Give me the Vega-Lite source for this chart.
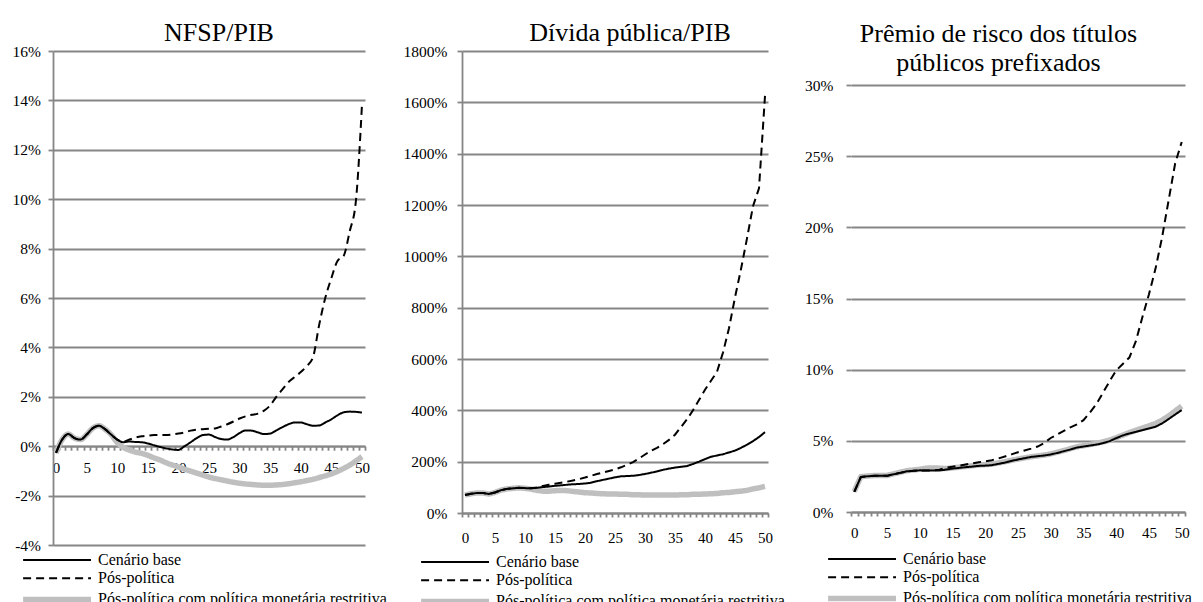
{
  "$schema": "https://vega.github.io/schema/vega-lite/v6.json",
  "background": "white",
  "padding": {"left": 12, "top": 20, "right": 0, "bottom": 0},
  "spacing": 16,
  "resolve": {"scale": {"color": "independent", "strokeDash": "independent", "strokeWidth": "independent"}, "legend": {"color": "independent", "strokeDash": "independent", "strokeWidth": "independent"}},
  "config": {
    "font": "Liberation Serif",
    "view": {"stroke": null},
    "axis": {"labelFont": "Liberation Serif", "labelColor": "#000000", "labelFontSize": 15, "domainColor": "#868686", "domainWidth": 1.8, "tickColor": "#868686", "tickWidth": 1.8, "gridColor": "#868686", "gridWidth": 1.8, "title": null},
    "axisX": {"grid": false, "tickSize": 4, "labelPadding": 10, "labelOverlap": false, "labelFlush": false, "labelBound": false},
    "axisY": {"tickSize": 5, "labelFontSize": 15.5, "labelOverlap": false},
    "title": {"font": "Liberation Serif", "fontSize": 26, "fontWeight": "normal", "color": "#000000", "anchor": "middle", "lineHeight": 29},
    "legend": {"orient": "none", "direction": "vertical", "title": null, "symbolType": "M-8.7,0H1", "symbolSize": 196, "labelFont": "Liberation Serif", "labelFontSize": 16, "labelColor": "#000000", "labelOffset": 4, "rowPadding": 2.2, "padding": 0, "labelLimit": 0}
  },
  "datasets": {
    "p1": [
      {"t":0,"a":-0.27,"b":-0.27,"c":-0.27},{"t":1,"a":0.27,"b":0.27,"c":0.27},{"t":2,"a":0.49,"b":0.49,"c":0.49},{"t":3,"a":0.33,"b":0.33,"c":0.33},{"t":4,"a":0.27,"b":0.27,"c":0.27},{"t":5,"a":0.47,"b":0.47,"c":0.47},{"t":6,"a":0.73,"b":0.73,"c":0.73},{"t":7,"a":0.83,"b":0.83,"c":0.83},{"t":8,"a":0.69,"b":0.69,"c":0.69},{"t":9,"a":0.47,"b":0.47,"c":0.47},
      {"t":10,"a":0.27,"b":0.27,"c":0.15},{"t":11,"a":0.16,"b":0.18,"c":-0.05},{"t":12,"a":0.19,"b":0.27,"c":-0.16},{"t":13,"a":0.17,"b":0.35,"c":-0.24},{"t":14,"a":0.16,"b":0.40,"c":-0.29},{"t":15,"a":0.11,"b":0.43,"c":-0.37},{"t":16,"a":0.04,"b":0.45,"c":-0.47},{"t":17,"a":-0.03,"b":0.45,"c":-0.56},{"t":18,"a":-0.09,"b":0.45,"c":-0.67},{"t":19,"a":-0.13,"b":0.48,"c":-0.76},
      {"t":20,"a":-0.15,"b":0.51,"c":-0.84},{"t":21,"a":0.0,"b":0.56,"c":-0.93},{"t":22,"a":0.16,"b":0.63,"c":-1.01},{"t":23,"a":0.33,"b":0.67,"c":-1.09},{"t":24,"a":0.45,"b":0.69,"c":-1.17},{"t":25,"a":0.47,"b":0.71,"c":-1.25},{"t":26,"a":0.37,"b":0.72,"c":-1.31},{"t":27,"a":0.29,"b":0.80,"c":-1.36},{"t":28,"a":0.27,"b":0.89,"c":-1.41},{"t":29,"a":0.37,"b":1.0,"c":-1.46},
      {"t":30,"a":0.53,"b":1.12,"c":-1.50},{"t":31,"a":0.64,"b":1.21,"c":-1.53},{"t":32,"a":0.63,"b":1.27,"c":-1.55},{"t":33,"a":0.56,"b":1.32,"c":-1.57},{"t":34,"a":0.49,"b":1.44,"c":-1.58},{"t":35,"a":0.51,"b":1.65,"c":-1.58},{"t":36,"a":0.64,"b":2.0,"c":-1.57},{"t":37,"a":0.77,"b":2.3,"c":-1.55},{"t":38,"a":0.89,"b":2.6,"c":-1.52},{"t":39,"a":0.96,"b":2.8,"c":-1.48},
      {"t":40,"a":0.96,"b":3.0,"c":-1.44},{"t":41,"a":0.89,"b":3.25,"c":-1.39},{"t":42,"a":0.83,"b":3.6,"c":-1.34},{"t":43,"a":0.84,"b":4.9,"c":-1.27},{"t":44,"a":0.96,"b":6.0,"c":-1.20},{"t":45,"a":1.09,"b":6.8,"c":-1.12},{"t":46,"a":1.25,"b":7.5,"c":-1.02},{"t":47,"a":1.37,"b":7.7,"c":-0.90},{"t":48,"a":1.40,"b":8.7,"c":-0.77},{"t":49,"a":1.39,"b":9.9,"c":-0.60},
      {"t":50,"a":1.36,"b":13.8,"c":-0.42}
    ],
    "p2": [
      {"t":0,"a":70,"b":70,"c":70},{"t":1,"a":75,"b":75,"c":75},{"t":2,"a":78,"b":78,"c":78},{"t":3,"a":78,"b":78,"c":78},{"t":4,"a":74,"b":74,"c":74},{"t":5,"a":80,"b":80,"c":80},{"t":6,"a":89,"b":89,"c":89},{"t":7,"a":94,"b":94,"c":94},{"t":8,"a":96,"b":96,"c":96},{"t":9,"a":98,"b":98,"c":98},
      {"t":10,"a":97,"b":97,"c":96},{"t":11,"a":96,"b":96,"c":93},{"t":12,"a":98,"b":100,"c":88},{"t":13,"a":101,"b":105,"c":85},{"t":14,"a":103,"b":110,"c":85},{"t":15,"a":106,"b":114,"c":87},{"t":16,"a":108,"b":118,"c":88},{"t":17,"a":110,"b":122,"c":87},{"t":18,"a":112,"b":127,"c":84},{"t":19,"a":113,"b":132,"c":82},
      {"t":20,"a":115,"b":138,"c":79},{"t":21,"a":118,"b":145,"c":78},{"t":22,"a":124,"b":152,"c":76},{"t":23,"a":129,"b":158,"c":75},{"t":24,"a":134,"b":164,"c":74},{"t":25,"a":139,"b":170,"c":74},{"t":26,"a":143,"b":178,"c":73},{"t":27,"a":144,"b":188,"c":73},{"t":28,"a":145,"b":198,"c":71},{"t":29,"a":148,"b":212,"c":71},
      {"t":30,"a":152,"b":228,"c":70},{"t":31,"a":157,"b":242,"c":70},{"t":32,"a":162,"b":254,"c":70},{"t":33,"a":168,"b":268,"c":70},{"t":34,"a":173,"b":285,"c":70},{"t":35,"a":177,"b":305,"c":70},{"t":36,"a":180,"b":335,"c":71},{"t":37,"a":183,"b":365,"c":71},{"t":38,"a":191,"b":400,"c":73},{"t":39,"a":200,"b":440,"c":73},
      {"t":40,"a":210,"b":480,"c":74},{"t":41,"a":219,"b":515,"c":75},{"t":42,"a":224,"b":550,"c":76},{"t":43,"a":229,"b":625,"c":79},{"t":44,"a":236,"b":720,"c":80},{"t":45,"a":243,"b":840,"c":83},{"t":46,"a":254,"b":950,"c":85},{"t":47,"a":266,"b":1070,"c":88},{"t":48,"a":280,"b":1195,"c":94},{"t":49,"a":296,"b":1265,"c":98},
      {"t":50,"a":315,"b":1625,"c":104}
    ],
    "p3": [
      {"t":0,"a":1.41,"b":1.41,"c":1.45},{"t":1,"a":2.46,"b":2.46,"c":2.48},{"t":2,"a":2.51,"b":2.51,"c":2.53},{"t":3,"a":2.54,"b":2.54,"c":2.56},{"t":4,"a":2.54,"b":2.54,"c":2.56},{"t":5,"a":2.54,"b":2.54,"c":2.57},{"t":6,"a":2.65,"b":2.65,"c":2.68},{"t":7,"a":2.75,"b":2.75,"c":2.79},{"t":8,"a":2.86,"b":2.86,"c":2.9},{"t":9,"a":2.89,"b":2.89,"c":2.95},
      {"t":10,"a":2.93,"b":2.93,"c":3.0},{"t":11,"a":2.91,"b":2.91,"c":3.08},{"t":12,"a":2.91,"b":2.91,"c":3.1},{"t":13,"a":2.91,"b":2.97,"c":3.08},{"t":14,"a":2.98,"b":3.1,"c":3.05},{"t":15,"a":3.05,"b":3.18,"c":3.1},{"t":16,"a":3.10,"b":3.25,"c":3.15},{"t":17,"a":3.15,"b":3.33,"c":3.2},{"t":18,"a":3.19,"b":3.42,"c":3.25},{"t":19,"a":3.24,"b":3.5,"c":3.3},
      {"t":20,"a":3.26,"b":3.56,"c":3.33},{"t":21,"a":3.29,"b":3.64,"c":3.37},{"t":22,"a":3.38,"b":3.76,"c":3.45},{"t":23,"a":3.47,"b":3.9,"c":3.53},{"t":24,"a":3.59,"b":4.05,"c":3.63},{"t":25,"a":3.69,"b":4.2,"c":3.72},{"t":26,"a":3.78,"b":4.32,"c":3.8},{"t":27,"a":3.87,"b":4.45,"c":3.88},{"t":28,"a":3.92,"b":4.6,"c":3.94},{"t":29,"a":3.97,"b":4.85,"c":4.0},
      {"t":30,"a":4.04,"b":5.2,"c":4.08},{"t":31,"a":4.15,"b":5.45,"c":4.2},{"t":32,"a":4.27,"b":5.7,"c":4.32},{"t":33,"a":4.39,"b":5.95,"c":4.45},{"t":34,"a":4.53,"b":6.15,"c":4.58},{"t":35,"a":4.60,"b":6.45,"c":4.66},{"t":36,"a":4.67,"b":7.0,"c":4.74},{"t":37,"a":4.74,"b":7.6,"c":4.83},{"t":38,"a":4.84,"b":8.4,"c":4.93},{"t":39,"a":4.98,"b":9.2,"c":5.05},
      {"t":40,"a":5.19,"b":9.95,"c":5.22},{"t":41,"a":5.38,"b":10.4,"c":5.4},{"t":42,"a":5.52,"b":10.85,"c":5.58},{"t":43,"a":5.63,"b":12.0,"c":5.74},{"t":44,"a":5.75,"b":13.7,"c":5.9},{"t":45,"a":5.87,"b":15.3,"c":6.05},{"t":46,"a":5.99,"b":17.1,"c":6.22},{"t":47,"a":6.22,"b":19.3,"c":6.45},{"t":48,"a":6.53,"b":21.9,"c":6.75},{"t":49,"a":6.85,"b":24.5,"c":7.1},
      {"t":50,"a":7.16,"b":26.0,"c":7.44}
    ]
  },
  "hconcat": [
    {
      "width": 312, "height": 494,
      "title": {"text": "NFSP/PIB", "dx": 10, "offset": -2, "font": "Liberation Serif"},
      "data": {"name": "p1"},
      "encoding": {
        "x": {"field": "t", "type": "quantitative", "scale": {"domain": [-0.5, 50.5], "nice": false, "zero": false},
          "axis": {"offset": -98.8, "labelOffset": 3.06, "labelFont": "Liberation Serif", "values": [-0.5,0.5,1.5,2.5,3.5,4.5,5.5,6.5,7.5,8.5,9.5,10.5,11.5,12.5,13.5,14.5,15.5,16.5,17.5,18.5,19.5,20.5,21.5,22.5,23.5,24.5,25.5,26.5,27.5,28.5,29.5,30.5,31.5,32.5,33.5,34.5,35.5,36.5,37.5,38.5,39.5,40.5,41.5,42.5,43.5,44.5,45.5,46.5,47.5,48.5,49.5,50.5],
            "labelExpr": "(datum.value+0.5)%5==0 ? format(datum.value+0.5,'d') : ''"}},
        "y": {"field": "v", "type": "quantitative", "scale": {"domain": [-4, 16], "nice": false, "zero": false},
          "axis": {"values": [-4,-2,0,2,4,6,8,10,12,14,16], "labelPadding": 7.5, "labelFont": "Liberation Serif", "labelExpr": "datum.value + '%'"}}
      },
      "layer": [
        {"transform": [{"fold": ["a","b","c"], "as": ["k","v"]}, {"filter": "datum.k=='c'"}],
         "mark": {"type": "line", "interpolate": "monotone"},
         "encoding": {
           "color": {"field": "k", "type": "nominal", "scale": {"domain": ["a","b","c"], "range": ["#000000","#000000","#bfbfbf"]}, "legend": {"legendX": 21, "legendY": 501, "labelFont": "Liberation Serif", "labelExpr": "datum.label=='a' ? 'Cenário base' : datum.label=='b' ? 'Pós-política' : 'Pós-política com política monetária restritiva'"}},
           "strokeDash": {"field": "k", "type": "nominal", "scale": {"domain": ["a","b","c"], "range": [[1,0],[8,5],[1,0]]}},
           "strokeWidth": {"field": "k", "type": "nominal", "scale": {"type": "ordinal", "domain": ["a","b","c"], "range": [2,2,5.5]}}}},
        {"transform": [{"fold": ["a","b","c"], "as": ["k","v"]}, {"filter": "datum.k=='b'"}],
         "mark": {"type": "line", "interpolate": "monotone"},
         "encoding": {
           "color": {"field": "k", "type": "nominal", "scale": {"domain": ["a","b","c"], "range": ["#000000","#000000","#bfbfbf"]}},
           "strokeDash": {"field": "k", "type": "nominal", "scale": {"domain": ["a","b","c"], "range": [[1,0],[8,5],[1,0]]}},
           "strokeWidth": {"field": "k", "type": "nominal", "scale": {"type": "ordinal", "domain": ["a","b","c"], "range": [2,2,5.5]}}}},
        {"transform": [{"fold": ["a","b","c"], "as": ["k","v"]}, {"filter": "datum.k=='a'"}],
         "mark": {"type": "line", "interpolate": "monotone"},
         "encoding": {
           "color": {"field": "k", "type": "nominal", "scale": {"domain": ["a","b","c"], "range": ["#000000","#000000","#bfbfbf"]}},
           "strokeDash": {"field": "k", "type": "nominal", "scale": {"domain": ["a","b","c"], "range": [[1,0],[8,5],[1,0]]}},
           "strokeWidth": {"field": "k", "type": "nominal", "scale": {"type": "ordinal", "domain": ["a","b","c"], "range": [2,2,5.5]}}}}
      ]
    },
    {
      "width": 306, "height": 462,
      "title": {"text": "Dívida pública/PIB", "dx": 15, "offset": -2, "font": "Liberation Serif"},
      "data": {"name": "p2"},
      "encoding": {
        "x": {"field": "t", "type": "quantitative", "scale": {"domain": [-0.5, 50.5], "nice": false, "zero": false},
          "axis": {"labelOffset": 3, "labelPadding": 13, "labelFont": "Liberation Serif", "values": [-0.5,0.5,1.5,2.5,3.5,4.5,5.5,6.5,7.5,8.5,9.5,10.5,11.5,12.5,13.5,14.5,15.5,16.5,17.5,18.5,19.5,20.5,21.5,22.5,23.5,24.5,25.5,26.5,27.5,28.5,29.5,30.5,31.5,32.5,33.5,34.5,35.5,36.5,37.5,38.5,39.5,40.5,41.5,42.5,43.5,44.5,45.5,46.5,47.5,48.5,49.5,50.5],
            "labelExpr": "(datum.value+0.5)%5==0 ? format(datum.value+0.5,'d') : ''"}},
        "y": {"field": "v", "type": "quantitative", "scale": {"domain": [0, 1800], "nice": false, "zero": false},
          "axis": {"values": [0,200,400,600,800,1000,1200,1400,1600,1800], "labelPadding": 10, "labelFont": "Liberation Serif", "labelExpr": "datum.value + '%'"}}
      },
      "layer": [
        {"transform": [{"fold": ["a","b","c"], "as": ["k","v"]}, {"filter": "datum.k=='c'"}],
         "mark": {"type": "line"},
         "encoding": {
           "color": {"field": "k", "type": "nominal", "scale": {"domain": ["a","b","c"], "range": ["#000000","#000000","#bfbfbf"]}, "legend": {"legendX": 10, "legendY": 503, "labelFont": "Liberation Serif", "labelExpr": "datum.label=='a' ? 'Cenário base' : datum.label=='b' ? 'Pós-política' : 'Pós-política com política monetária restritiva'"}},
           "strokeDash": {"field": "k", "type": "nominal", "scale": {"domain": ["a","b","c"], "range": [[1,0],[8,5],[1,0]]}},
           "strokeWidth": {"field": "k", "type": "nominal", "scale": {"type": "ordinal", "domain": ["a","b","c"], "range": [2,2,5.5]}}}},
        {"transform": [{"fold": ["a","b","c"], "as": ["k","v"]}, {"filter": "datum.k=='b'"}],
         "mark": {"type": "line"},
         "encoding": {
           "color": {"field": "k", "type": "nominal", "scale": {"domain": ["a","b","c"], "range": ["#000000","#000000","#bfbfbf"]}},
           "strokeDash": {"field": "k", "type": "nominal", "scale": {"domain": ["a","b","c"], "range": [[1,0],[8,5],[1,0]]}},
           "strokeWidth": {"field": "k", "type": "nominal", "scale": {"type": "ordinal", "domain": ["a","b","c"], "range": [2,2,5.5]}}}},
        {"transform": [{"fold": ["a","b","c"], "as": ["k","v"]}, {"filter": "datum.k=='a'"}],
         "mark": {"type": "line"},
         "encoding": {
           "color": {"field": "k", "type": "nominal", "scale": {"domain": ["a","b","c"], "range": ["#000000","#000000","#bfbfbf"]}},
           "strokeDash": {"field": "k", "type": "nominal", "scale": {"domain": ["a","b","c"], "range": [[1,0],[8,5],[1,0]]}},
           "strokeWidth": {"field": "k", "type": "nominal", "scale": {"type": "ordinal", "domain": ["a","b","c"], "range": [2,2,5.5]}}}}
      ]
    },
    {
      "width": 334, "height": 461,
      "title": {"text": ["Prêmio de risco dos títulos", "públicos prefixados"], "dx": -19.5, "offset": -25, "font": "Liberation Serif"},
      "data": {"name": "p3"},
      "encoding": {
        "x": {"field": "t", "type": "quantitative", "scale": {"domain": [-0.5, 50.5], "nice": false, "zero": false},
          "axis": {"labelOffset": 3.27, "labelPadding": 9, "labelFont": "Liberation Serif", "values": [-0.5,0.5,1.5,2.5,3.5,4.5,5.5,6.5,7.5,8.5,9.5,10.5,11.5,12.5,13.5,14.5,15.5,16.5,17.5,18.5,19.5,20.5,21.5,22.5,23.5,24.5,25.5,26.5,27.5,28.5,29.5,30.5,31.5,32.5,33.5,34.5,35.5,36.5,37.5,38.5,39.5,40.5,41.5,42.5,43.5,44.5,45.5,46.5,47.5,48.5,49.5,50.5],
            "labelExpr": "(datum.value+0.5)%5==0 ? format(datum.value+0.5,'d') : ''"}},
        "y": {"field": "v", "type": "quantitative", "scale": {"domain": [0, 32.39], "nice": false, "zero": false},
          "axis": {"values": [0,5,10,15,20,25,30], "domain": false, "labelPadding": 13, "labelFont": "Liberation Serif", "labelExpr": "datum.value + '%'",
            "title": " ", "titleFontSize": 2, "titleX": -50, "titleY": 230, "titleAngle": 0, "titleAlign": "left", "titleBaseline": "middle"}}
      },
      "layer": [
        {"data": {"values": [{}]},
         "mark": {"type": "rule", "color": "#868686", "strokeWidth": 1.8},
         "encoding": {"x": {"datum": -0.5}, "y": {"datum": 0}, "y2": {"datum": 30}}},
        {"transform": [{"fold": ["a","b","c"], "as": ["k","v"]}, {"filter": "datum.k=='c'"}],
         "mark": {"type": "line"},
         "encoding": {
           "color": {"field": "k", "type": "nominal", "scale": {"domain": ["a","b","c"], "range": ["#000000","#000000","#bfbfbf"]}, "legend": {"legendX": 28, "legendY": 500, "labelFont": "Liberation Serif", "labelExpr": "datum.label=='a' ? 'Cenário base' : datum.label=='b' ? 'Pós-política' : 'Pós-política com política monetária restritiva'"}},
           "strokeDash": {"field": "k", "type": "nominal", "scale": {"domain": ["a","b","c"], "range": [[1,0],[8,5],[1,0]]}},
           "strokeWidth": {"field": "k", "type": "nominal", "scale": {"type": "ordinal", "domain": ["a","b","c"], "range": [2,2,5.5]}}}},
        {"transform": [{"fold": ["a","b","c"], "as": ["k","v"]}, {"filter": "datum.k=='b'"}],
         "mark": {"type": "line"},
         "encoding": {
           "color": {"field": "k", "type": "nominal", "scale": {"domain": ["a","b","c"], "range": ["#000000","#000000","#bfbfbf"]}},
           "strokeDash": {"field": "k", "type": "nominal", "scale": {"domain": ["a","b","c"], "range": [[1,0],[8,5],[1,0]]}},
           "strokeWidth": {"field": "k", "type": "nominal", "scale": {"type": "ordinal", "domain": ["a","b","c"], "range": [2,2,5.5]}}}},
        {"transform": [{"fold": ["a","b","c"], "as": ["k","v"]}, {"filter": "datum.k=='a'"}],
         "mark": {"type": "line"},
         "encoding": {
           "color": {"field": "k", "type": "nominal", "scale": {"domain": ["a","b","c"], "range": ["#000000","#000000","#bfbfbf"]}},
           "strokeDash": {"field": "k", "type": "nominal", "scale": {"domain": ["a","b","c"], "range": [[1,0],[8,5],[1,0]]}},
           "strokeWidth": {"field": "k", "type": "nominal", "scale": {"type": "ordinal", "domain": ["a","b","c"], "range": [2,2,5.5]}}}}
      ]
    }
  ]
}
